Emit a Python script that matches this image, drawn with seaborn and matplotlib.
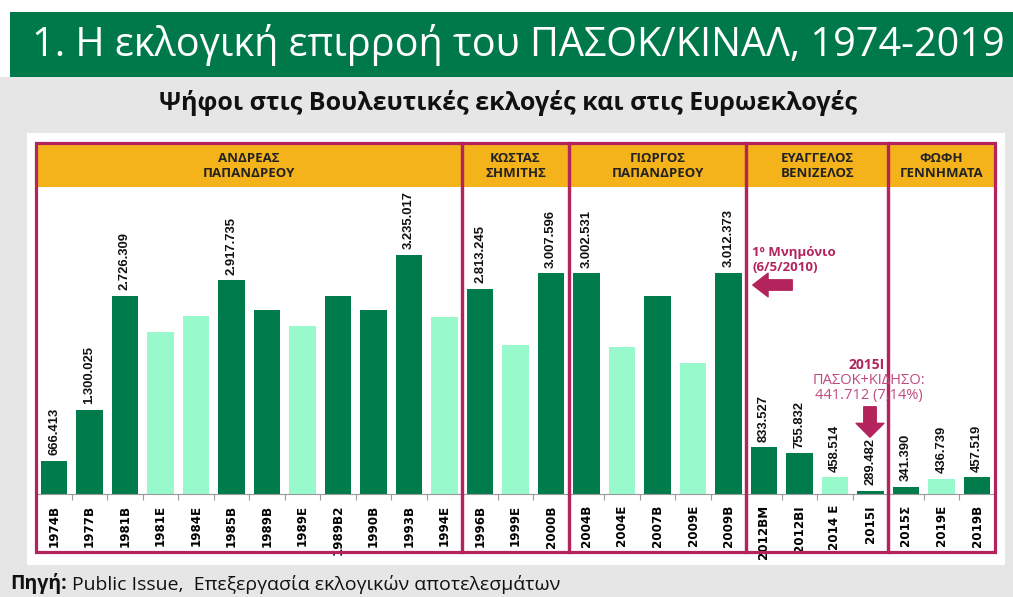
import numpy as np
import pandas as pd
import matplotlib
matplotlib.use("Agg")
import matplotlib.pyplot as plt
import matplotlib.transforms as mtransforms
from matplotlib.patches import Rectangle, FancyArrowPatch
import seaborn as sns

# --- data ---
elections = ['1974Β', '1977Β', '1981Β', '1981Ε', '1984Ε', '1985Β', '1989Β', '1989Ε',
             '1989Β2', '1990Β', '1993Β', '1994Ε', '1996Β', '1999Ε', '2000Β', '2004Β',
             '2004Ε', '2007Β', '2009Ε', '2009Β', '2012ΒΜ', '2012ΒΙ', '2014 Ε', '2015Ι',
             '2015Σ', '2019Ε', '2019Β']
votes = [666413, 1300025, 2726309, 2278000, 2476000, 2917735, 2551000, 2352000,
         2724000, 2543000, 3235017, 2458000, 2813245, 2116000, 3007596, 3002531,
         2083000, 2727000, 1879000, 3012373, 833527, 755832, 458514, 289482,
         341390, 436739, 457519]
kind = ['Β', 'Β', 'Β', 'Ε', 'Ε', 'Β', 'Β', 'Ε', 'Β', 'Β', 'Β', 'Ε', 'Β', 'Ε', 'Β', 'Β',
        'Ε', 'Β', 'Ε', 'Β', 'Β', 'Β', 'Ε', 'Β', 'Β', 'Ε', 'Β']
labelled = ['1974Β', '1977Β', '1981Β', '1985Β', '1993Β', '1996Β', '2000Β', '2004Β',
            '2009Β', '2012ΒΜ', '2012ΒΙ', '2014 Ε', '2015Ι', '2015Σ', '2019Ε', '2019Β']

leaders = ['ΑΝΔΡΕΑΣ\nΠΑΠΑΝΔΡΕΟΥ', 'ΚΩΣΤΑΣ\nΣΗΜΙΤΗΣ', 'ΓΙΩΡΓΟΣ\nΠΑΠΑΝΔΡΕΟΥ',
           'ΕΥΑΓΓΕΛΟΣ\nΒΕΝΙΖΕΛΟΣ', 'ΦΩΦΗ\nΓΕΝΝΗΜΑΤΑ']
leader_first = ['1974Β', '1996Β', '2004Β', '2012ΒΜ', '2015Σ']
leader_last = ['1994Ε', '2000Β', '2009Β', '2015Ι', '2019Β']

df = pd.DataFrame({'election': elections, 'votes': votes, 'kind': kind})

dark_green = '#007b4b'
mint = '#97f9cc'
crimson = '#b3245d'
orange = '#f5b31b'
grey_bg = '#e6e6e6'

W, H = 1013, 597
fig = plt.figure(figsize=(W / 100, H / 100), dpi=100)
fig.patch.set_facecolor('white')


def fx(x):
    return x / W


def fy(y):
    return 1 - y / H


# background blocks
fig.add_artist(Rectangle((0, 0), 1, fy(77), transform=fig.transFigure,
                         facecolor=grey_bg, edgecolor='none', zorder=-3))
fig.add_artist(Rectangle((fx(10), fy(77)), 1 - fx(10), fy(12) - fy(77),
                         transform=fig.transFigure, facecolor='#00794a',
                         edgecolor='none', zorder=-2))
fig.add_artist(Rectangle((fx(27), fy(565)), fx(1005) - fx(27), fy(133) - fy(565),
                         transform=fig.transFigure, facecolor='white',
                         edgecolor='none', zorder=-2))

fig.text(fx(32), fy(45), '1. Η εκλογική επιρροή του ΠΑΣΟΚ/ΚΙΝΑΛ, 1974-2019',
         color='white', fontsize=28.5, family='Open Sans', va='center', ha='left')
fig.text(fx(508), fy(103), 'Ψήφοι στις Βουλευτικές εκλογές και στις Ευρωεκλογές',
         color='#111111', fontsize=18, family='Open Sans', fontweight='bold',
         va='center', ha='center')

# bars
ax = fig.add_axes([fx(36.25), fy(494), fx(994.75) - fx(36.25), fy(187) - fy(494)])
ax.patch.set_alpha(0)
sns.barplot(data=df, x='election', y='votes', hue='kind', order=elections,
            palette={'Β': dark_green, 'Ε': mint}, dodge=False, width=0.76,
            saturation=1, legend=False, ax=ax)
ax.set_xlim(-0.5, len(elections) - 0.5)
ax.set_ylim(250000, 4082000)
for s in ['top', 'right', 'left']:
    ax.spines[s].set_visible(False)
ax.spines['bottom'].set_color('#9a9a9a')
ax.spines['bottom'].set_linewidth(0.8)
ax.set_yticks([])
ax.set_xlabel('')
ax.set_ylabel('')
ax.set_xticks(range(len(elections)))
ax.set_xticklabels(elections, rotation=90, fontsize=8.6, fontweight='bold',
                   family='DejaVu Sans')
ax.set_xticks(np.arange(-0.5, len(elections), 1), minor=True)
ax.tick_params(axis='x', which='major', length=0, pad=8)
ax.tick_params(axis='x', which='minor', length=4, color='#9a9a9a', width=0.8)

for name, v in zip(elections, votes):
    if name in labelled:
        i = elections.index(name)
        ax.annotate(f'{v:,}'.replace(',', '.'), xy=(i, v), xytext=(0, 4),
                    textcoords='offset points', rotation=90, ha='center', va='bottom',
                    fontsize=9.4, fontweight='bold', color='#111111',
                    family='Liberation Sans', annotation_clip=False)

# leader panels
blend = mtransforms.blended_transform_factory(ax.transData, fig.transFigure)
for lead, a, b in zip(leaders, leader_first, leader_last):
    x0 = elections.index(a) - 0.5
    x1 = elections.index(b) + 0.5
    ax.add_patch(Rectangle((x0, fy(187)), x1 - x0, fy(143) - fy(187), transform=blend,
                           facecolor=orange, edgecolor='none', clip_on=False, zorder=4))
    ax.add_patch(Rectangle((x0, fy(552)), x1 - x0, fy(143) - fy(552), transform=blend,
                           facecolor='none', edgecolor=crimson, linewidth=2.3,
                           clip_on=False, zorder=5))
    ax.text((x0 + x1) / 2, fy(166), lead, transform=blend, ha='center', va='center',
            fontsize=9.5, fontweight='bold', color='#222222', family='Open Sans',
            linespacing=1.2, zorder=6)

# annotations
fig.text(fx(752), fy(252), '1º Μνημόνιο', color=crimson, fontsize=9.5,
         fontweight='bold', family='Open Sans', va='center', ha='left')
fig.text(fx(752), fy(267), '(6/5/2010)', color=crimson, fontsize=9.5,
         fontweight='bold', family='Open Sans', va='center', ha='left')
fig.add_artist(FancyArrowPatch(
    (795, H - 285), (750, H - 285), transform=None,
    arrowstyle='simple,head_width=1.7,head_length=1.1,tail_width=0.75',
    mutation_scale=10, color=crimson, zorder=7))

fig.text(fx(867), fy(365), '2015Ι', color=crimson, fontsize=10, fontweight='bold',
         family='Open Sans', va='center', ha='center')
fig.text(fx(869), fy(380), 'ΠΑΣΟΚ+ΚΙΔΗΣΟ:', color='#c04a80', fontsize=10.5,
         family='Open Sans', va='center', ha='center')
fig.text(fx(869), fy(395), '441.712 (7,14%)', color='#c04a80', fontsize=10.5,
         family='Open Sans', va='center', ha='center')
fig.add_artist(FancyArrowPatch(
    (870, H - 404), (870, H - 440), transform=None,
    arrowstyle='simple,head_width=2.0,head_length=1.0,tail_width=0.9',
    mutation_scale=10, color=crimson, zorder=7))

# source line
src = fig.text(fx(10), fy(584), 'Πηγή:', fontsize=14, fontweight='bold',
               family='Open Sans', color='#111111', va='center', ha='left')
fig.canvas.draw()
bb = src.get_window_extent()
fig.text((bb.x1 + 5) / W, fy(584), 'Public Issue,  Επεξεργασία εκλογικών αποτελεσμάτων',
         fontsize=14, family='Open Sans', color='#111111', va='center', ha='left')

fig.savefig('out.png', dpi=100)
